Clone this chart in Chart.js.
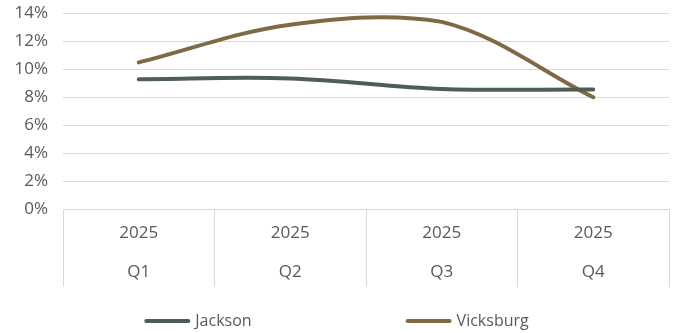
<!DOCTYPE html>
<html>
<head>
<meta charset="utf-8">
<script src="https://cdn.jsdelivr.net/npm/chart.js@4"></script>
<style>
  html, body { margin: 0; padding: 0; background: #fff; }
  #wrap { width: 673px; height: 333px; }
</style>
</head>
<body>
<div id="wrap"><canvas id="chart"></canvas></div>
<script>
// categories (two-line tick labels)
var quarters = [['2025', 'Q1'], ['2025', 'Q2'], ['2025', 'Q3'], ['2025', 'Q4']];
// series values, in percent
var jackson = [9.3, 9.35, 8.6, 8.55];
var vicksburg = [10.5, 13.2, 13.4, 8.0];
// y axis ticks
var yMin = 0, yMax = 14, yStep = 2;

var textColor = '#595959';
var gridColor = '#d9d9d9';
var fontFamily = '"Open Sans", "Noto Sans", sans-serif';

// simple legend under the axis: line sample + label for each series
var bottomLegend = {
    id: 'bottomLegend',
    afterDraw: function( chart ) {
        var ctx = chart.ctx;
        var sample = 46, space = 5, gap = 154, y = 321;
        ctx.save();
        ctx.font = '16px ' + fontFamily;
        var sets = chart.data.datasets;
        var widths = sets.map( function( ds ) {
            return sample + space + ctx.measureText( ds.label ).width;
        });
        var total = widths.reduce( function( a, b ) { return a + b; }, 0 ) + gap * ( sets.length - 1 );
        var x = ( chart.width - total ) / 2;
        sets.forEach( function( ds, i ) {
            ctx.strokeStyle = ds.borderColor;
            ctx.lineWidth = 4;
            ctx.lineCap = 'round';
            ctx.beginPath();
            ctx.moveTo( x + 2, y );
            ctx.lineTo( x + sample - 2, y );
            ctx.stroke();
            ctx.fillStyle = textColor;
            ctx.textBaseline = 'middle';
            ctx.textAlign = 'left';
            ctx.fillText( ds.label, x + sample + space, y );
            x += widths[ i ] + gap;
        });
        ctx.restore();
    }
};

var ctx = document.getElementById( 'chart' ).getContext( '2d' );
var chart = new Chart( ctx, {
    type: 'line',
    data: {
        labels: quarters,
        datasets: [
            {
                label: 'Jackson',
                data: jackson,
                borderColor: '#4e5d55',
                backgroundColor: '#4e5d55',
                borderWidth: 4,
                borderCapStyle: 'round',
                pointRadius: 0,
                tension: 0.35
            },
            {
                label: 'Vicksburg',
                data: vicksburg,
                borderColor: '#7e6a45',
                backgroundColor: '#7e6a45',
                borderWidth: 4,
                borderCapStyle: 'round',
                pointRadius: 0,
                tension: 0.35
            }
        ]
    },
    options: {
        responsive: true,
        maintainAspectRatio: false,
        animation: false,
        layout: {
            padding: { top: 13.5, right: 4, bottom: 42, left: 0 }
        },
        plugins: {
            legend: { display: false },
            tooltip: { enabled: false }
        },
        scales: {
            x: {
                offset: true,
                grid: {
                    offset: true,
                    drawOnChartArea: false,
                    color: gridColor,
                    tickLength: 78
                },
                border: { color: gridColor },
                ticks: {
                    color: textColor,
                    font: { family: fontFamily, size: 17, lineHeight: 2.3 },
                    padding: -73.5,
                    maxRotation: 0
                },
                afterFit: function( scale ) {
                    scale.height = 82;
                    scale.paddingLeft = 0;
                    scale.paddingRight = 0;
                }
            },
            y: {
                min: yMin,
                max: yMax,
                grid: { color: gridColor, drawTicks: false },
                border: { display: false },
                ticks: {
                    stepSize: yStep,
                    color: textColor,
                    padding: 15,
                    font: { family: fontFamily, size: 17 },
                    callback: function( v ) { return v + '%'; }
                },
                afterFit: function( scale ) {
                    scale.width = 63;
                    scale.paddingTop = 0;
                    scale.paddingBottom = 0;
                }
            }
        }
    },
    plugins: [ bottomLegend ]
});
</script>
</body>
</html>
